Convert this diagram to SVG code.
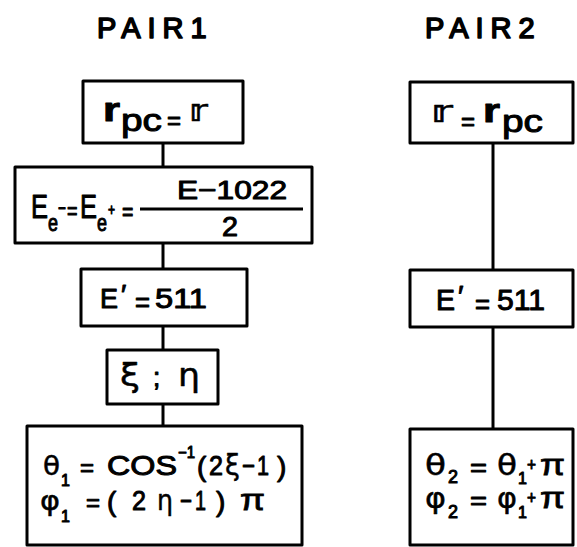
<svg xmlns="http://www.w3.org/2000/svg" width="577" height="547" viewBox="0 0 577 547">
  <style>
    .t { font-family: "Liberation Sans", "DejaVu Sans", sans-serif; fill: #000; stroke: #000; stroke-width: 1; stroke-linejoin: round; }
    .g { font-family: "DejaVu Sans", "Liberation Sans", sans-serif; fill: #000; stroke: #000; stroke-width: 0.5; stroke-linejoin: round; }
    .p { font-family: "Liberation Sans", "DejaVu Sans", sans-serif; fill: #000; stroke: #000; stroke-width: 0.8; }
    .b { font-weight: bold; }
    .h { font-family: "Liberation Sans", "DejaVu Sans", sans-serif; font-size: 29px; letter-spacing: 7px; fill: #000; stroke: #000; stroke-width: 1.6; stroke-linejoin: round; }
    .box { fill: #fff; stroke: #000; stroke-width: 3; stroke-linejoin: round; }
    .wire { stroke: #000; stroke-width: 3; fill: none; }
  </style>
  <rect width="577" height="547" fill="#fff"/>

  <!-- column headings -->
  <text class="h" x="97" y="38">PAIR1</text>
  <text class="h" x="425" y="38">PAIR2</text>

  <!-- vertical links between the steps -->
  <g id="connectors">
    <line class="wire" x1="163" y1="143" x2="163" y2="167"/>
    <line class="wire" x1="163" y1="243" x2="163" y2="269"/>
    <line class="wire" x1="163" y1="326" x2="163" y2="350"/>
    <line class="wire" x1="163" y1="404" x2="163" y2="426"/>
    <line class="wire" x1="493" y1="143" x2="493" y2="270"/>
    <line class="wire" x1="493" y1="327" x2="493" y2="429"/>
  </g>

  <!-- PAIR1 column -->
  <g id="p1-position">
    <rect class="box" x="83" y="81" width="160" height="62"/>
    <text class="t b" x="103" y="121" font-size="33" textLength="17" lengthAdjust="spacingAndGlyphs">r</text>
    <text class="t" x="121" y="131" font-size="31" textLength="41" lengthAdjust="spacingAndGlyphs">pc</text>
    <text class="t" x="167" y="129" font-size="26" textLength="14" lengthAdjust="spacingAndGlyphs">=</text>
    <text class="g b" x="189" y="121" font-size="31" stroke-width="1.4" textLength="19" lengthAdjust="spacingAndGlyphs">𝕣</text>
  </g>

  <g id="p1-energy">
    <rect class="box" x="15" y="167" width="297" height="76"/>
    <!-- electron / positron energies, set in one condensed line -->
    <text class="t" transform="translate(31,218) scale(0.75,1)" font-size="34"><tspan x="0" y="0">E</tspan><tspan x="22.7" y="13" font-size="24">e</tspan><tspan x="36" y="-4" font-size="18">−</tspan><tspan x="48" y="1" font-size="24">=</tspan><tspan x="65.3" y="0">E</tspan><tspan x="88" y="13" font-size="24">e</tspan><tspan x="102.7" y="-3" font-size="16">+</tspan><tspan x="121.3" y="2" font-size="26">=</tspan></text>
    <text class="t" x="177" y="199" font-size="26" textLength="110" lengthAdjust="spacingAndGlyphs">E−1022</text>
    <line class="wire" x1="140" y1="209" x2="303" y2="209" stroke-width="2.5"/>
    <text class="t" x="222" y="236" font-size="27" textLength="16" lengthAdjust="spacingAndGlyphs">2</text>
  </g>

  <g id="p1-photon">
    <rect class="box" x="81" y="269" width="166" height="57"/>
    <text class="t" x="100" y="308" font-size="28" textLength="18" lengthAdjust="spacingAndGlyphs">E</text>
    <text class="t" x="121" y="304" font-size="28">′</text>
    <text class="t" x="135" y="312" font-size="27" textLength="15" lengthAdjust="spacingAndGlyphs">=</text>
    <text class="t" x="155" y="308" font-size="28" textLength="52" lengthAdjust="spacingAndGlyphs">511</text>
  </g>

  <g id="p1-random">
    <rect class="box" x="107" y="350" width="111" height="54"/>
    <text class="g" x="120" y="386" font-size="32" textLength="20" lengthAdjust="spacingAndGlyphs">ξ</text>
    <text class="t" x="153" y="386" font-size="26">;</text>
    <text class="g" x="178" y="386" font-size="32" textLength="22" lengthAdjust="spacingAndGlyphs">η</text>
  </g>

  <g id="p1-angles">
    <rect class="box" x="27" y="426" width="275" height="119"/>
    <text class="g" x="43" y="475" font-size="27" textLength="17" lengthAdjust="spacingAndGlyphs">θ</text>
    <text class="t" x="61" y="486" font-size="16">1</text>
    <text class="t" x="80" y="476" font-size="24" textLength="14" lengthAdjust="spacingAndGlyphs">=</text>
    <text class="t" x="107" y="475" font-size="28" textLength="70" lengthAdjust="spacingAndGlyphs">COS</text>
    <text class="t" x="178" y="458" font-size="16" textLength="17" lengthAdjust="spacingAndGlyphs">−1</text>
    <text class="t" x="197" y="476" font-size="28">(</text>
    <text class="t" x="209" y="475" font-size="28" textLength="14" lengthAdjust="spacingAndGlyphs">2</text>
    <text class="g" x="225" y="475" font-size="29" textLength="15" lengthAdjust="spacingAndGlyphs">ξ</text>
    <text class="t" x="242" y="475" font-size="28" textLength="13" lengthAdjust="spacingAndGlyphs">−</text>
    <text class="t" x="257" y="475" font-size="28" textLength="12" lengthAdjust="spacingAndGlyphs">1</text>
    <text class="t" x="277" y="476" font-size="28">)</text>
    <text class="g" x="40" y="510" font-size="27" textLength="20" lengthAdjust="spacingAndGlyphs">φ</text>
    <text class="t" x="61" y="522" font-size="16">1</text>
    <text class="t" x="86" y="511" font-size="24" textLength="14" lengthAdjust="spacingAndGlyphs">=</text>
    <text class="t" x="107" y="511" font-size="28">(</text>
    <text class="t" x="132" y="510" font-size="28" textLength="14" lengthAdjust="spacingAndGlyphs">2</text>
    <text class="g" x="157" y="510" font-size="29" textLength="16" lengthAdjust="spacingAndGlyphs">η</text>
    <text class="t" x="180" y="510" font-size="28" textLength="12" lengthAdjust="spacingAndGlyphs">−</text>
    <text class="t" x="195" y="510" font-size="28" textLength="11" lengthAdjust="spacingAndGlyphs">1</text>
    <text class="t" x="216" y="511" font-size="28">)</text>
    <text class="p" x="240" y="510" font-size="30" textLength="25" lengthAdjust="spacingAndGlyphs">π</text>
  </g>

  <!-- PAIR2 column -->
  <g id="p2-position">
    <rect class="box" x="410" y="82" width="163" height="61"/>
    <text class="g b" x="431" y="122" font-size="31" stroke-width="1.4" textLength="22" lengthAdjust="spacingAndGlyphs">𝕣</text>
    <text class="t" x="461" y="130" font-size="26" textLength="14" lengthAdjust="spacingAndGlyphs">=</text>
    <text class="t b" x="483" y="122" font-size="33" textLength="17" lengthAdjust="spacingAndGlyphs">r</text>
    <text class="t" x="502" y="132" font-size="31" textLength="41" lengthAdjust="spacingAndGlyphs">pc</text>
  </g>

  <g id="p2-photon">
    <rect class="box" x="410" y="270" width="163" height="57"/>
    <text class="t" x="436" y="310" font-size="29" textLength="19" lengthAdjust="spacingAndGlyphs">E</text>
    <text class="t" x="458" y="306" font-size="29">′</text>
    <text class="t" x="475" y="314" font-size="27" textLength="15" lengthAdjust="spacingAndGlyphs">=</text>
    <text class="t" x="497" y="310" font-size="29" textLength="48" lengthAdjust="spacingAndGlyphs">511</text>
  </g>

  <g id="p2-angles">
    <rect class="box" x="410" y="429" width="163" height="116"/>
    <text class="g" x="425" y="475" font-size="28" textLength="21" lengthAdjust="spacingAndGlyphs">θ</text>
    <text class="t" x="448" y="483" font-size="18" textLength="10" lengthAdjust="spacingAndGlyphs">2</text>
    <text class="t" x="470" y="476" font-size="26" textLength="17" lengthAdjust="spacingAndGlyphs">=</text>
    <text class="g" x="497" y="475" font-size="28" textLength="20" lengthAdjust="spacingAndGlyphs">θ</text>
    <text class="t" x="518" y="484" font-size="16">1</text>
    <text class="t" x="527" y="471" font-size="18" textLength="9" lengthAdjust="spacingAndGlyphs">+</text>
    <text class="p" x="540" y="475" font-size="30" textLength="25" lengthAdjust="spacingAndGlyphs">π</text>
    <text class="g" x="425" y="508" font-size="28" textLength="21" lengthAdjust="spacingAndGlyphs">φ</text>
    <text class="t" x="448" y="518" font-size="18" textLength="10" lengthAdjust="spacingAndGlyphs">2</text>
    <text class="t" x="470" y="509" font-size="26" textLength="17" lengthAdjust="spacingAndGlyphs">=</text>
    <text class="g" x="497" y="508" font-size="28" textLength="20" lengthAdjust="spacingAndGlyphs">φ</text>
    <text class="t" x="518" y="518" font-size="16">1</text>
    <text class="t" x="527" y="504" font-size="18" textLength="9" lengthAdjust="spacingAndGlyphs">+</text>
    <text class="p" x="540" y="508" font-size="30" textLength="25" lengthAdjust="spacingAndGlyphs">π</text>
  </g>
</svg>
